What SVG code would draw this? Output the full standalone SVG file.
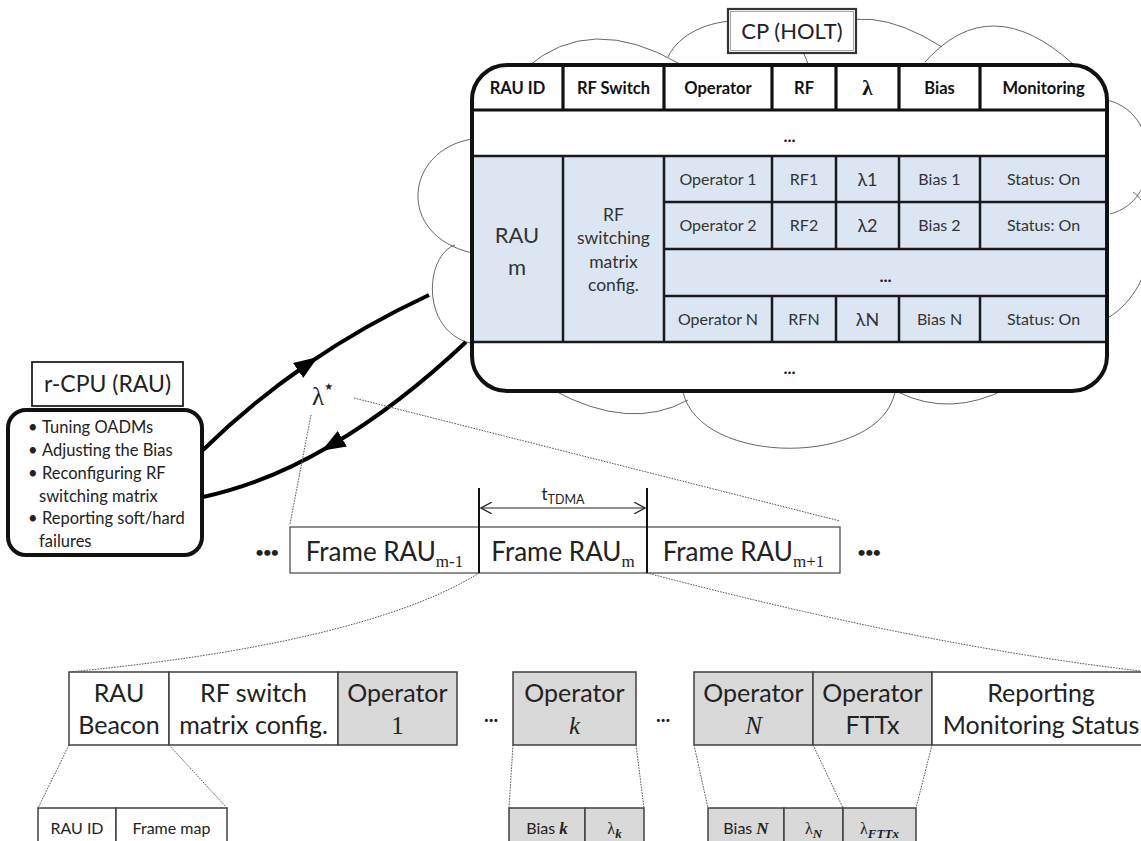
<svg xmlns="http://www.w3.org/2000/svg" width="1141" height="841" viewBox="0 0 1141 841">
<defs>
<style>
text{font-family:Lato,"Noto Sans","DejaVu Sans",sans-serif}
.cl{fill:none;stroke:#555;stroke-width:0.9}
.dt{fill:none;stroke:#555;stroke-width:1;stroke-dasharray:1.6 1.2}
.tl{stroke:#1a1a1a;stroke-width:2.5;fill:none}
.th{stroke:#111;stroke-width:3.2;fill:none}
.hd{font-weight:bold;font-size:16.5px;text-anchor:middle;fill:#111}
.bd{font-size:16px;text-anchor:middle;fill:#333}
.dots{font-weight:bold;font-size:17px;text-anchor:middle;fill:#222}
.fr{font-size:26px;text-anchor:middle;fill:#222}
.sub{font-family:"Liberation Serif",serif;font-size:17px}
.sb{fill:#fff;stroke:#404040;stroke-width:1.5}
.sg{fill:#d9d9d9;stroke:#404040;stroke-width:1.5}
.st{font-size:25px;text-anchor:middle;fill:#222}
.ser{font-family:"Liberation Serif",serif}
.sm{font-size:16px;text-anchor:middle;fill:#222}
.bl{font-size:16.5px;fill:#222}
.big{font-size:14px;font-weight:bold;text-anchor:middle;fill:#222;letter-spacing:-0.5px}
.conn{fill:none;stroke:#000;stroke-width:4}
</style>
<marker id="tri" viewBox="0 0 24 18" refX="12" refY="9" markerWidth="24" markerHeight="18" markerUnits="userSpaceOnUse" orient="auto"><path d="M0,0 L24,9 L0,18 z" fill="#000"/></marker>
<marker id="open" viewBox="0 0 12 12" refX="11" refY="6" markerWidth="12" markerHeight="12" markerUnits="userSpaceOnUse" orient="auto-start-reverse"><path d="M0,0 L11,6 L0,12" fill="none" stroke="#222" stroke-width="1.2"/></marker>
</defs>
<rect width="1141" height="841" fill="#fff"/>

<g id="cloud">
<path class="cl" d="M526,68 Q590,12 680,64"/>
<path class="cl" d="M668,57 C690,10 790,5 808,64"/>
<path class="cl" d="M815,35 Q865,-2 942,47"/>
<path class="cl" d="M925,62 Q990,-11 1073,64"/>
<path class="cl" d="M1106,100 C1160,110 1165,200 1110,214"/>
<path class="cl" d="M1133,192 C1160,210 1160,285 1108,318"/>
<path class="cl" d="M553,390 Q630,432 688,400"/>
<path class="cl" d="M683,392 C700,467 880,467 895,392"/>
<path class="cl" d="M898,392 Q950,418 1008,388"/>
<path class="cl" d="M472,139 C405,150 395,235 472,253"/>
<path class="cl" d="M455,245 C425,255 420,330 470,343"/>
</g>

<g id="cp-label">
<rect x="728" y="9" width="128" height="44" fill="#fff" stroke="#333" stroke-width="2.2"/>
<rect x="730.5" y="11.5" width="123" height="39" fill="none" stroke="#aaa" stroke-width="1"/>
<text x="792" y="39" font-size="22" text-anchor="middle" fill="#222">CP (HOLT)</text>
</g>

<g id="cp-table">
<rect x="472" y="65" width="635" height="326" rx="35" fill="#fff"/>
<rect x="472" y="156" width="635" height="186" fill="#dce6f2"/>
<path class="th" d="M563,65V110M664,65V110M772,65V110M836,65V110M899,65V110M980,65V110"/>
<path class="th" d="M472,110H1107"/>
<path class="tl" d="M472,156H1107M472,342H1107M664,202H1107M664,249H1107M664,296H1107"/>
<path class="tl" d="M563,156V342M664,156V342M772,156V249M836,156V249M899,156V249M980,156V249M772,296V342M836,296V342M899,296V342M980,296V342"/>
<rect x="472" y="65" width="635" height="326" rx="35" fill="none" stroke="#111" stroke-width="4"/>
<text class="hd" x="517.5" y="94">RAU ID</text>
<text class="hd" x="613.5" y="94">RF Switch</text>
<text class="hd" x="718" y="94">Operator</text>
<text class="hd" x="804" y="94">RF</text>
<text class="hd" x="867.5" y="95" style="font-family:'Liberation Serif',serif;font-size:21px">λ</text>
<text class="hd" x="939.5" y="94">Bias</text>
<text class="hd" x="1043.5" y="94">Monitoring</text>
<text class="dots" x="789.5" y="142">...</text>
<text x="517" y="243" font-size="22" text-anchor="middle" fill="#333">RAU</text>
<text x="517" y="275" font-size="22" text-anchor="middle" fill="#333">m</text>
<text x="613.5" y="221" font-size="17.5" text-anchor="middle" fill="#333">RF</text>
<text x="613.5" y="244" font-size="17.5" text-anchor="middle" fill="#333">switching</text>
<text x="613.5" y="268" font-size="17.5" text-anchor="middle" fill="#333">matrix</text>
<text x="613.5" y="291" font-size="17.5" text-anchor="middle" fill="#333">config.</text>
<text class="bd" x="718" y="185">Operator 1</text>
<text class="bd" x="804" y="185">RF1</text>
<text class="bd" x="867.5" y="186" style="font-size:18px">λ1</text>
<text class="bd" x="939.5" y="185">Bias 1</text>
<text class="bd" x="1043.5" y="185">Status: On</text>
<text class="bd" x="718" y="231">Operator 2</text>
<text class="bd" x="804" y="231">RF2</text>
<text class="bd" x="867.5" y="232" style="font-size:18px">λ2</text>
<text class="bd" x="939.5" y="231">Bias 2</text>
<text class="bd" x="1043.5" y="231">Status: On</text>
<text class="dots" x="885.5" y="282">...</text>
<text class="bd" x="718" y="325">Operator N</text>
<text class="bd" x="804" y="325">RFN</text>
<text class="bd" x="867.5" y="326" style="font-size:18px">λN</text>
<text class="bd" x="939.5" y="325">Bias N</text>
<text class="bd" x="1043.5" y="325">Status: On</text>
<text class="dots" x="789.5" y="374">...</text>
</g>

<g id="rcpu-label">
<rect x="32" y="362" width="151" height="44" fill="#fff" stroke="#222" stroke-width="1.8"/>
<text x="107.5" y="392" font-size="23" text-anchor="middle" fill="#222">r-CPU (RAU)</text>
</g>

<g id="rcpu-box">
<rect x="8" y="410" width="194" height="145" rx="18" fill="#fff" stroke="#111" stroke-width="4"/>
<text class="bl" x="28" y="433">•</text><text class="bl" x="42" y="433">Tuning OADMs</text>
<text class="bl" x="28" y="456">•</text><text class="bl" x="42" y="456">Adjusting the Bias</text>
<text class="bl" x="28" y="479">•</text><text class="bl" x="42" y="479">Reconfiguring RF</text>
<text class="bl" x="39" y="502">switching matrix</text>
<text class="bl" x="28" y="524">•</text><text class="bl" x="42" y="524">Reporting soft/hard</text>
<text class="bl" x="39" y="547">failures</text>
</g>

<g id="lambda-label">
<text x="312" y="405" font-size="25" fill="#222" style="font-family:'Liberation Serif',serif">λ<tspan font-size="10" dy="-15" style="font-family:'DejaVu Sans',sans-serif">★</tspan></text>
</g>

<g id="frame-row">
<rect x="290" y="527" width="550" height="46" fill="#fff" stroke="#444" stroke-width="1.2"/>
<path d="M479,488V573M647,488V573" stroke="#111" stroke-width="2"/>
<line x1="481" y1="508" x2="645" y2="508" stroke="#222" stroke-width="1.2" marker-start="url(#open)" marker-end="url(#open)"/>
<text x="563" y="500" font-size="17" text-anchor="middle" fill="#222">t<tspan font-size="12.5" dy="4">TDMA</tspan></text>
<text class="fr" x="384.5" y="561">Frame RAU<tspan class="sub" dy="6">m-1</tspan></text>
<text class="fr" x="563" y="561">Frame RAU<tspan class="sub" dy="6">m</tspan></text>
<text class="fr" x="743.5" y="561">Frame RAU<tspan class="sub" dy="6">m+1</tspan></text>
<text class="big" x="267" y="557">•••</text>
<text class="big" x="869" y="557">•••</text>
</g>

<g id="subframe-row">
<rect class="sb" x="69" y="672" width="100" height="73"/>
<rect class="sb" x="169" y="672" width="169" height="73"/>
<rect class="sg" x="338" y="672" width="119" height="73"/>
<rect class="sg" x="513" y="672" width="123" height="73"/>
<rect class="sg" x="694" y="672" width="119" height="73"/>
<rect class="sg" x="813" y="672" width="119" height="73"/>
<rect class="sb" x="932" y="672" width="220" height="73"/>
<text class="st" x="119" y="702">RAU</text>
<text class="st" x="119" y="734">Beacon</text>
<text class="st" x="253.5" y="702">RF switch</text>
<text class="st" x="253.5" y="734">matrix config.</text>
<text class="st" x="397.5" y="702">Operator</text>
<text class="st ser" x="397.5" y="734">1</text>
<text class="st" x="574.5" y="702">Operator</text>
<text class="st ser" x="574.5" y="734" font-style="italic">k</text>
<text class="st" x="753.5" y="702">Operator</text>
<text class="st ser" x="753.5" y="734" font-style="italic">N</text>
<text class="st" x="872.5" y="702">Operator</text>
<text class="st" x="872.5" y="734">FTTx</text>
<text class="st" x="1041" y="702">Reporting</text>
<text class="st" x="1041" y="734">Monitoring Status</text>
<text x="491" y="722" font-size="20" font-weight="bold" text-anchor="middle" fill="#222">...</text>
<text x="663" y="722" font-size="20" font-weight="bold" text-anchor="middle" fill="#222">...</text>
</g>

<g id="beacon-fields">
<rect class="sb" x="38" y="808" width="78" height="45"/>
<rect class="sb" x="116" y="808" width="111" height="45"/>
<text class="sm" x="77" y="834">RAU ID</text>
<text class="sm" x="171.5" y="834">Frame map</text>
</g>

<g id="operator-k-fields">
<rect class="sg" x="509" y="808" width="76" height="45"/>
<rect class="sg" x="585" y="808" width="59" height="45"/>
<text class="sm" x="547" y="834">Bias <tspan class="ser" font-weight="bold" font-style="italic" font-size="17">k</tspan></text>
<text class="sm ser" x="614.5" y="834" font-size="17">λ<tspan font-weight="bold" font-style="italic" font-size="13" dy="4">k</tspan></text>
</g>

<g id="operator-n-fields">
<rect class="sg" x="708" y="808" width="76" height="45"/>
<rect class="sg" x="784" y="808" width="59" height="45"/>
<rect class="sg" x="843" y="808" width="73" height="45"/>
<text class="sm" x="746" y="834">Bias <tspan class="ser" font-weight="bold" font-style="italic" font-size="17">N</tspan></text>
<text class="sm ser" x="813.5" y="834" font-size="17">λ<tspan font-weight="bold" font-style="italic" font-size="13" dy="4">N</tspan></text>
<text class="sm ser" x="879.5" y="834" font-size="17">λ<tspan font-weight="bold" font-style="italic" font-size="13" dy="4">FTTx</tspan></text>
</g>

<g id="connectors">
<path class="conn" d="M203,450 Q251.5,402.5 308,363.75 Q364.5,325 429,295" marker-mid="url(#tri)"/>
<path class="conn" d="M466,342 Q398,406 332,444.75 Q266.5,483.5 203,497" marker-mid="url(#tri)"/>
<path class="dt" d="M311,415 L290,524"/>
<path class="dt" d="M354,398 L840,521"/>
<path class="dt" d="M479,573 C420,610 300,650 69,672"/>
<path class="dt" d="M647,573 C750,600 950,650 1150,672"/>
<path class="dt" d="M69,745 L38,808M169,745 L227,808"/>
<path class="dt" d="M513,745 L509,808M636,745 L644,808"/>
<path class="dt" d="M694,745 L708,808M813,745 L843,808M932,745 L916,808"/>
</g>
</svg>
